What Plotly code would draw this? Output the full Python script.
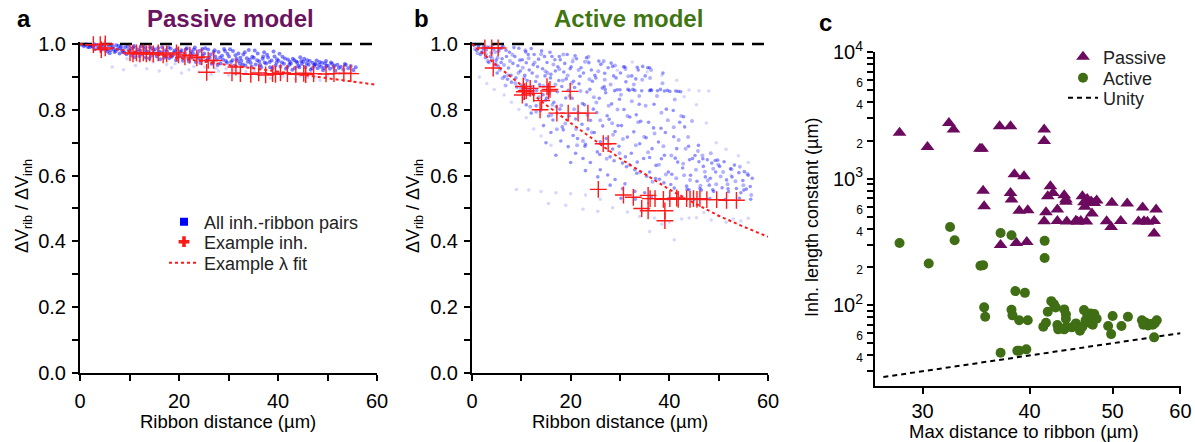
import plotly.graph_objects as go

FONT = "Arial, 'Liberation Sans', sans-serif"
W, H = 1195, 442

BLUE_DENSE = "rgba(0,0,255,0.42)"
BLUE_FAINT = "rgba(0,0,255,0.16)"
RED = "#ff1a1a"
PURPLE = "#6b0a5e"
GREEN = "#3f6e14"
TITLE_PURPLE = "#6a1460"
TITLE_GREEN = "#3f7612"

# ---------------- Panel a: passive model ----------------
passive_pairs_x = [
    0.3, 0.8, 1.2, 1.6, 2.0, 2.4, 1.0, 1.9,
    2.6, 3.0, 3.3, 3.7, 4.1, 4.5, 4.8, 2.9, 3.9, 4.3,
    5.1, 5.5, 5.8, 6.2, 6.6, 7.0, 7.3, 5.4, 6.0, 6.8, 7.2, 6.4,
    7.6, 8.0, 8.3, 8.7, 9.1, 9.4, 9.8, 7.8, 8.5, 9.0, 9.6, 8.1,
    10.1, 10.5, 10.8, 11.2, 11.6, 12.0, 12.3, 10.4, 11.0, 11.5, 12.2, 10.9,
    12.6, 13.0, 13.3, 13.7, 14.1, 14.4, 14.8, 12.9, 13.5, 14.0, 14.6, 13.2,
    15.1, 15.5, 15.9, 16.2, 16.6, 16.9, 17.3, 15.3, 15.8, 16.4, 17.0, 17.4,
    17.6, 18.0, 18.3, 18.7, 19.1, 19.4, 19.8, 17.9, 18.5, 19.0, 19.6, 18.2,
    20.1, 20.5, 20.8, 21.2, 21.6, 21.9, 22.3, 20.3, 20.9, 21.4, 22.0, 22.4,
    22.6, 23.0, 23.4, 23.7, 24.1, 24.5, 24.8, 22.8, 23.2, 23.9, 24.3, 24.7,
    25.1, 25.5, 25.9, 26.2, 26.6, 27.0, 27.3, 25.3, 25.8, 26.4, 26.9, 27.2,
    27.6, 28.0, 28.4, 28.7, 29.1, 29.5, 29.8, 27.8, 28.3, 28.9, 29.3, 29.7,
    30.1, 30.5, 30.9, 31.2, 31.6, 32.0, 32.3, 30.3, 30.8, 31.4, 31.9, 32.4,
    32.6, 33.0, 33.4, 33.7, 34.1, 34.5, 34.8, 32.9, 33.3, 33.9, 34.3, 34.7,
    35.1, 35.5, 35.9, 36.2, 36.6, 37.0, 37.3, 35.3, 35.8, 36.4, 36.9, 37.2,
    37.6, 38.0, 38.4, 38.7, 39.1, 39.5, 39.8, 37.8, 38.3, 38.9, 39.3, 39.7,
    40.1, 40.5, 40.9, 41.2, 41.6, 42.0, 42.3, 40.3, 40.8, 41.4, 41.9, 42.4,
    42.6, 43.0, 43.4, 43.7, 44.1, 44.5, 44.8, 42.9, 43.3, 43.9, 44.3, 44.7,
    45.1, 45.5, 45.9, 46.2, 46.6, 47.0, 47.3, 45.3, 45.8, 46.4, 46.9, 47.4,
    47.6, 48.0, 48.4, 48.7, 49.1, 49.5, 49.8, 47.8, 48.3, 48.9, 49.3, 49.7,
    50.1, 50.5, 50.9, 51.2, 51.6, 52.0, 52.3, 50.7, 51.4,
    52.7, 53.2, 53.7, 54.2, 54.7, 55.2, 55.7, 53.5,
]
passive_pairs_y = [
    0.998, 0.993, 0.999, 0.991, 0.996, 0.994, 0.997, 0.990,
    0.991, 0.984, 0.997, 0.988, 0.995, 0.983, 0.992, 0.999, 0.986, 0.998,
    0.987, 0.977, 0.994, 0.981, 0.990, 0.976, 0.996, 0.983, 0.972, 0.985, 0.979, 0.997,
    0.984, 0.971, 0.992, 0.976, 0.989, 0.969, 0.982, 0.995, 0.980, 0.974, 0.993, 0.987,
    0.978, 0.965, 0.989, 0.971, 0.984, 0.963, 0.993, 0.986, 0.960, 0.976, 0.980, 0.994,
    0.969, 0.985, 0.959, 0.977, 0.990, 0.964, 0.981, 0.992, 0.972, 0.956, 0.987, 0.975,
    0.984, 0.962, 0.977, 0.954, 0.990, 0.968, 0.981, 0.971, 0.988, 0.975, 0.958, 0.963,
    0.977, 0.957, 0.986, 0.965, 0.980, 0.951, 0.972, 0.989, 0.961, 0.974, 0.984, 0.968,
    0.962, 0.981, 0.949, 0.973, 0.987, 0.955, 0.969, 0.976, 0.959, 0.984, 0.947, 0.978,
    0.958, 0.983, 0.945, 0.969, 0.979, 0.951, 0.964, 0.972, 0.989, 0.956, 0.942, 0.985,
    0.971, 0.949, 0.983, 0.958, 0.940, 0.976, 0.962, 0.987, 0.955, 0.968, 0.944, 0.981,
    0.953, 0.976, 0.941, 0.964, 0.985, 0.948, 0.970, 0.936, 0.959, 0.952, 0.979, 0.943,
    0.962, 0.945, 0.979, 0.934, 0.955, 0.971, 0.940, 0.984, 0.951, 0.966, 0.948, 0.958,
    0.949, 0.968, 0.935, 0.957, 0.982, 0.942, 0.961, 0.938, 0.975, 0.946, 0.953, 0.931,
    0.958, 0.938, 0.971, 0.947, 0.929, 0.962, 0.944, 0.980, 0.951, 0.936, 0.955, 0.975,
    0.941, 0.959, 0.929, 0.950, 0.977, 0.935, 0.954, 0.967, 0.945, 0.926, 0.962, 0.943,
    0.949, 0.932, 0.961, 0.940, 0.925, 0.953, 0.937, 0.970, 0.944, 0.956, 0.930, 0.946,
    0.941, 0.955, 0.927, 0.947, 0.934, 0.960, 0.939, 0.922, 0.951, 0.943, 0.929, 0.948,
    0.946, 0.929, 0.951, 0.937, 0.922, 0.943, 0.933, 0.955, 0.940, 0.948, 0.926, 0.938,
    0.939, 0.926, 0.945, 0.931, 0.920, 0.941, 0.933, 0.950, 0.936, 0.943, 0.927, 0.948,
    0.934, 0.925, 0.940, 0.929, 0.919, 0.937, 0.927, 0.944, 0.935,
    0.931, 0.922, 0.936, 0.926, 0.933, 0.921, 0.929, 0.939,
]
passive_sparse_x = [
    6.5, 8.8, 11.2, 13.5, 16.0, 18.5, 20.5, 22.0, 24.0, 26.5, 28.0, 30.0, 32.0, 34.5, 36.5,
    38.5, 41.0, 43.5, 46.0, 48.5, 14.8, 25.2, 35.2, 45.5, 52.5, 9.5, 19.2, 29.5, 39.5, 50.0,
    12.0, 17.5, 23.0, 27.5, 31.0, 33.5, 37.5, 40.5, 44.5, 47.5, 53.5, 55.5,
]
passive_sparse_y = [
    0.930, 0.922, 0.935, 0.925, 0.918, 0.928, 0.912, 0.922, 0.915, 0.908, 0.918, 0.905, 0.912, 0.900, 0.908,
    0.896, 0.902, 0.893, 0.898, 0.890, 0.945, 0.930, 0.918, 0.912, 0.910, 0.955, 0.940, 0.925, 0.915, 0.905,
    0.948, 0.938, 0.932, 0.926, 0.921, 0.916, 0.912, 0.908, 0.903, 0.900, 0.912, 0.915,
]
passive_example_x = [
    2.7, 4.1, 5.1, 5.1, 4.3, 10.1, 10.7, 11.4, 12.1, 12.8, 13.4, 14.1, 14.8, 15.8, 16.8, 17.5,
    19.5, 19.9, 21.2, 22.2, 23.6, 24.6, 25.9, 27.0, 25.6, 30.7, 31.5, 32.4, 34.5, 36.1, 37.5,
    38.9, 39.5, 40.5, 41.9, 43.6, 45.2, 45.6, 47.2, 49.7, 51.3, 53.3, 54.7,
]
passive_example_y = [
    0.998, 0.998, 1.000, 0.988, 0.983, 0.973, 0.970, 0.973, 0.970, 0.973, 0.970, 0.973, 0.970, 0.973, 0.967, 0.970,
    0.973, 0.967, 0.961, 0.966, 0.958, 0.961, 0.950, 0.950, 0.914, 0.912, 0.930, 0.910, 0.908, 0.912, 0.906,
    0.910, 0.908, 0.912, 0.910, 0.908, 0.911, 0.907, 0.910, 0.909, 0.910, 0.911, 0.910,
]
fit_x = [0, 5, 10, 15, 20, 25, 30, 35, 40, 45, 50, 55, 60]
passive_fit_y = [1.000, 0.989, 0.978, 0.968, 0.957, 0.946, 0.936, 0.926, 0.916, 0.906, 0.896, 0.886, 0.876]

# ---------------- Panel b: active model ----------------
active_pairs_x = [
    0.4, 0.9, 1.3, 1.7, 2.2, 0.7, 1.9, 2.4,
    2.7, 3.1, 3.4, 3.9, 4.2, 4.6, 2.9, 3.7, 4.4, 4.9,
    5.1, 5.4, 5.9, 6.3, 6.6, 7.0, 7.4, 5.7, 6.1, 6.9, 7.2, 5.3,
    7.6, 8.0, 8.3, 8.7, 9.1, 9.5, 9.8, 7.9, 8.5, 9.3, 8.9, 9.7,
    10.2, 10.5, 10.9, 11.2, 11.6, 12.0, 12.3, 10.7, 11.4, 11.9, 12.4, 10.1, 11.0, 12.2,
    12.6, 13.0, 13.3, 13.7, 14.1, 14.4, 14.8, 12.9, 13.5, 13.9, 14.3, 14.7, 13.1, 14.9,
    15.2, 15.5, 15.9, 16.2, 16.6, 16.9, 17.3, 15.4, 15.8, 16.4, 16.8, 17.1, 17.4, 15.1, 16.0,
    17.6, 17.9, 18.3, 18.6, 19.0, 19.3, 19.7, 17.8, 18.2, 18.8, 19.5, 19.9, 18.5, 19.1, 17.7,
    20.1, 20.5, 20.8, 21.2, 21.5, 21.9, 22.3, 20.3, 20.9, 21.4, 21.7, 22.1, 22.4, 20.6, 21.0,
    22.6, 23.0, 23.3, 23.7, 24.0, 24.4, 24.8, 22.8, 23.2, 23.5, 23.9, 24.2, 24.6, 22.9, 24.9,
    25.1, 25.4, 25.8, 26.1, 26.5, 26.8, 27.2, 25.3, 25.7, 26.0, 26.4, 26.9, 27.4, 25.9, 27.1,
    27.6, 28.0, 28.3, 28.7, 29.0, 29.4, 29.8, 27.8, 28.2, 28.5, 28.9, 29.2, 29.6, 28.8, 29.9,
    30.1, 30.5, 30.8, 31.2, 31.5, 31.9, 32.3, 30.3, 30.7, 31.1, 31.6, 32.0, 32.4, 31.3,
    32.6, 33.0, 33.3, 33.7, 34.0, 34.4, 34.8, 32.8, 33.2, 33.5, 33.9, 34.2, 34.6, 33.4,
    35.1, 35.4, 35.8, 36.2, 36.5, 36.9, 37.3, 35.3, 35.6, 36.0, 36.4, 36.8, 37.2,
    37.6, 38.0, 38.3, 38.7, 39.0, 39.4, 39.8, 37.8, 38.2, 38.9, 39.2, 39.6,
    40.1, 40.5, 40.9, 41.3, 41.7, 42.1, 40.3, 40.8, 41.5, 42.3,
    42.7, 43.1, 43.5, 43.9, 44.3, 44.7, 42.9, 44.0,
    45.2, 45.6, 46.0, 46.5, 46.9, 47.3, 45.9,
    47.7, 48.1, 48.6, 49.0, 49.4, 49.8, 48.3,
    50.2, 50.7, 51.1, 51.6, 52.0, 52.4,
    52.7, 53.2, 53.6, 54.1, 54.5, 54.9,
    55.2, 55.6, 56.0, 56.4, 56.8,
    30.2, 33.1, 36.4, 39.7, 42.2, 45.1, 48.2, 51.3, 54.2, 56.5,
    41.0, 43.6, 46.2, 48.8, 51.9, 55.1,
    36.0, 38.4, 41.2, 44.1, 46.8, 49.3,
    27.0, 30.0, 33.0, 36.0, 39.0, 41.8,
    28.5, 31.0, 33.5, 36.0,
    12.0, 14.5, 16.0, 18.0, 19.5, 21.0, 22.5, 24.0, 26.0, 27.5, 29.0, 31.0,
    17.0, 20.0, 23.0, 25.5, 28.0, 30.5, 33.0, 35.0, 15.0, 11.0,
]
active_pairs_y = [
    0.996, 0.981, 0.992, 0.968, 0.987, 0.999, 0.975, 0.994,
    0.958, 0.991, 0.944, 0.973, 0.997, 0.936, 0.982, 0.962, 0.985, 0.951,
    0.912, 0.978, 0.944, 0.993, 0.901, 0.962, 0.927, 0.986, 0.955, 0.981, 0.893, 0.933,
    0.975, 0.884, 0.941, 0.962, 0.869, 0.987, 0.918, 0.905, 0.989, 0.934, 0.897, 0.951,
    0.952, 0.834, 0.976, 0.889, 0.921, 0.986, 0.848, 0.905, 0.968, 0.862, 0.937, 0.874, 0.943, 0.912,
    0.968, 0.812, 0.931, 0.877, 0.979, 0.846, 0.903, 0.886, 0.954, 0.798, 0.925, 0.962, 0.859, 0.829,
    0.944, 0.781, 0.897, 0.962, 0.823, 0.918, 0.855, 0.871, 0.975, 0.769, 0.952, 0.809, 0.931, 0.836, 0.908,
    0.889, 0.952, 0.748, 0.915, 0.836, 0.968, 0.781, 0.802, 0.871, 0.941, 0.859, 0.925, 0.739, 0.894, 0.962,
    0.931, 0.722, 0.868, 0.955, 0.791, 0.902, 0.756, 0.835, 0.964, 0.713, 0.879, 0.928, 0.819, 0.887, 0.772,
    0.912, 0.695, 0.854, 0.943, 0.768, 0.887, 0.731, 0.815, 0.958, 0.742, 0.862, 0.921, 0.802, 0.689, 0.905,
    0.897, 0.672, 0.835, 0.938, 0.751, 0.871, 0.713, 0.792, 0.948, 0.703, 0.866, 0.911, 0.782, 0.664, 0.852,
    0.928, 0.657, 0.818, 0.903, 0.734, 0.861, 0.689, 0.771, 0.942, 0.681, 0.858, 0.897, 0.752, 0.645, 0.832,
    0.912, 0.638, 0.801, 0.885, 0.717, 0.859, 0.668, 0.752, 0.931, 0.657, 0.862, 0.778, 0.903, 0.627,
    0.862, 0.618, 0.785, 0.921, 0.697, 0.858, 0.652, 0.733, 0.894, 0.641, 0.817, 0.765, 0.932, 0.607,
    0.903, 0.598, 0.762, 0.861, 0.682, 0.817, 0.631, 0.715, 0.928, 0.611, 0.859, 0.745, 0.591,
    0.858, 0.589, 0.744, 0.912, 0.662, 0.802, 0.611, 0.702, 0.862, 0.578, 0.731, 0.859,
    0.856, 0.604, 0.718, 0.857, 0.641, 0.762, 0.573, 0.798, 0.682, 0.855,
    0.623, 0.748, 0.568, 0.689, 0.601, 0.652, 0.779, 0.557,
    0.661, 0.583, 0.642, 0.556, 0.628, 0.596, 0.692,
    0.648, 0.571, 0.638, 0.552, 0.611, 0.647, 0.592,
    0.628, 0.563, 0.642, 0.587, 0.551, 0.621,
    0.596, 0.632, 0.561, 0.609, 0.548, 0.585,
    0.612, 0.559, 0.601, 0.567, 0.592,
    0.531, 0.528, 0.533, 0.529, 0.532, 0.528, 0.530, 0.527, 0.531, 0.528,
    0.562, 0.558, 0.561, 0.557, 0.560, 0.556,
    0.655, 0.651, 0.653, 0.648, 0.651, 0.646,
    0.862, 0.861, 0.859, 0.858, 0.857, 0.856,
    0.932, 0.930, 0.929, 0.928,
    0.790, 0.752, 0.731, 0.705, 0.688, 0.668, 0.652, 0.640, 0.618, 0.602, 0.588, 0.575,
    0.662, 0.640, 0.615, 0.596, 0.571, 0.560, 0.552, 0.548, 0.700, 0.815,
]
# further inh.-ribbon pairs from the remaining inhibitory cells
active_more_x = [
    0.6, 1.1, 1.4, 2.3, 2.8, 3.2, 3.6, 4.1, 4.7, 4.8,
    5.2, 5.6, 6.0, 6.5, 6.8, 7.3, 7.7, 8.2, 8.8, 9.4, 9.9, 6.2,
    10.3, 10.6, 11.1, 11.5, 11.8, 12.2, 12.7, 13.2, 13.6, 14.0, 14.5, 14.9, 10.8, 13.0,
    15.3, 15.7, 16.1, 16.5, 16.9, 17.2, 17.7, 18.1, 18.5, 18.9, 19.4, 19.8, 16.3, 18.4,
    20.2, 20.7, 21.1, 21.6, 22.0, 22.5, 22.9, 23.4, 23.8, 24.3, 24.7, 21.3, 23.6, 20.4,
    25.2, 25.6, 26.0, 26.4, 26.9, 27.3, 27.7, 28.1, 28.6, 29.0, 29.5, 29.9, 26.7, 28.4,
    30.2, 30.6, 31.1, 31.5, 31.9, 32.4, 32.8, 33.2, 33.7, 34.1, 34.5, 34.9, 31.7, 33.9,
    35.2, 35.7, 36.1, 36.6, 37.0, 37.5, 37.9, 38.4, 38.8, 39.3, 39.7, 36.3, 38.6,
    40.4, 40.9, 41.4, 41.9, 42.4, 42.8, 43.3, 43.8, 44.2, 44.6, 41.1, 43.0,
    45.4, 45.8, 46.3, 46.7, 47.2, 47.8, 48.4, 48.9, 49.5, 49.9,
    50.4, 50.9, 51.8, 52.6, 53.4, 54.3, 55.0, 55.8, 56.6,
]
active_more_y = [
    0.985, 0.972, 0.998, 0.979, 0.969, 0.948, 0.990, 0.957, 0.976, 0.941,
    0.958, 0.921, 0.988, 0.936, 0.874, 0.905, 0.948, 0.967, 0.881, 0.912, 0.865, 0.896,
    0.928, 0.897, 0.862, 0.957, 0.809, 0.871, 0.944, 0.901, 0.838, 0.969, 0.872, 0.917, 0.981, 0.794,
    0.912, 0.851, 0.784, 0.938, 0.877, 0.741, 0.923, 0.813, 0.968, 0.758, 0.904, 0.842, 0.815, 0.889,
    0.881, 0.802, 0.742, 0.921, 0.857, 0.705, 0.946, 0.784, 0.893, 0.731, 0.838, 0.692, 0.961, 0.947,
    0.822, 0.917, 0.768, 0.694, 0.891, 0.651, 0.812, 0.877, 0.724, 0.935, 0.801, 0.668, 0.948, 0.759,
    0.846, 0.711, 0.924, 0.781, 0.632, 0.826, 0.877, 0.692, 0.762, 0.611, 0.891, 0.718, 0.902, 0.842,
    0.812, 0.671, 0.897, 0.581, 0.728, 0.842, 0.633, 0.791, 0.689, 0.603, 0.768, 0.921, 0.881,
    0.661, 0.747, 0.592, 0.708, 0.781, 0.636, 0.682, 0.717, 0.587, 0.766, 0.831, 0.601,
    0.618, 0.675, 0.569, 0.661, 0.612, 0.585, 0.668, 0.621, 0.574, 0.633,
    0.597, 0.611, 0.574, 0.619, 0.583, 0.627, 0.571, 0.606, 0.541,
]
active_sparse_x = [
    1.5, 3.0, 4.5, 6.5, 8.0, 9.5, 11.0, 12.5, 14.0, 16.0, 9.0, 11.5, 14.0, 17.0, 20.0, 23.0,
    26.0, 15.5, 19.0, 22.5, 25.5, 28.5, 31.5, 34.0, 37.0, 40.0, 42.5, 45.5, 48.5, 51.5, 54.5,
    36.0, 38.5, 41.0, 44.0, 47.0, 50.0, 53.0, 56.0, 20.5, 23.5, 26.5, 29.5, 32.5, 35.5, 38.5,
    41.5, 44.0, 46.0, 48.0, 43.0, 45.5, 47.5, 49.5, 51.5, 54.0, 56.0, 52.5,
]
active_sparse_y = [
    0.900, 0.880, 0.862, 0.845, 0.823, 0.801, 0.776, 0.742, 0.720, 0.692, 0.558, 0.556, 0.552, 0.548, 0.545, 0.541,
    0.528, 0.515, 0.510, 0.498, 0.492, 0.502, 0.489, 0.476, 0.471, 0.459, 0.468, 0.472, 0.465, 0.458, 0.462,
    0.430, 0.452, 0.405, 0.471, 0.488, 0.478, 0.468, 0.470, 0.955, 0.948, 0.942, 0.920, 0.945, 0.915, 0.905,
    0.890, 0.860, 0.858, 0.857, 0.840, 0.815, 0.760, 0.700, 0.680, 0.660, 0.640, 0.600,
]
active_example_x = [
    2.6, 4.0, 5.3, 4.3, 10.4, 10.6, 10.2, 11.8, 12.5, 11.0, 15.2, 15.5, 15.8, 19.9, 14.1, 13.8,
    17.2, 19.5, 21.5, 23.5, 26.6, 27.6, 25.6, 30.7, 32.7, 35.7, 36.1, 37.1, 38.8, 40.1, 41.5,
    41.8, 43.5, 44.2, 44.9, 45.6, 46.2, 47.6, 49.6, 51.6, 53.6, 34.4, 35.7, 39.1, 39.1,
]
active_example_y = [
    0.988, 0.988, 0.988, 0.927, 0.871, 0.855, 0.845, 0.865, 0.850, 0.858, 0.870, 0.857, 0.862, 0.856, 0.828, 0.800,
    0.790, 0.790, 0.790, 0.790, 0.697, 0.697, 0.558, 0.541, 0.534, 0.540, 0.530, 0.530, 0.528, 0.530, 0.532,
    0.528, 0.530, 0.528, 0.530, 0.528, 0.530, 0.527, 0.527, 0.525, 0.525, 0.500, 0.493, 0.493, 0.463,
]
active_fit_y = [1.000, 0.935, 0.875, 0.815, 0.760, 0.705, 0.652, 0.605, 0.558, 0.517, 0.478, 0.445, 0.414]

no_attenuation_x = [0, 60]
no_attenuation_y = [1, 1]

# ---------------- Panel c: length constants ----------------
passive_dist = [
    28.2, 30.4, 32.2, 32.6, 35.0, 35.2, 36.9, 38.0, 41.6, 41.6,
    35.3, 35.4, 38.4, 39.4, 38.0, 38.1, 38.9, 39.8, 42.3, 42.6, 42.0, 41.8, 43.1,
    43.9, 44.1, 44.1, 46.1, 46.3, 46.7, 47.2, 47.6, 47.9, 46.4, 47.3, 49.9, 52.0, 54.2, 56.2,
    41.6, 43.1, 44.2, 45.3, 45.5, 45.9, 46.6, 49.2, 51.1, 53.6, 54.4, 54.9, 55.9,
    49.8, 55.9, 37.0, 38.6, 39.7,
]
passive_lambda = [
    2300, 1780, 2750, 2440, 1725, 1725, 2590, 2590, 2440, 1980,
    800, 605, 1080, 1045, 770, 685, 556, 563, 870, 770, 726, 542, 569,
    740, 655, 684, 726, 650, 690, 660, 640, 670, 600, 530, 645, 636, 590, 569,
    460, 462, 458, 465, 455, 462, 458, 460, 462, 458, 460, 455, 462,
    415, 368, 298, 310, 316,
]
active_dist = [
    28.2, 30.5, 32.3, 32.7, 35.05, 35.3, 35.4, 35.5, 37.0, 37.0,
    38.1, 38.1, 38.2, 38.5, 38.7, 38.9, 38.9, 39.5, 39.65, 39.8,
    41.65, 41.65, 41.5, 41.8, 42.0, 42.4, 42.7, 42.9, 43.1, 43.2,
    43.9, 44.1, 44.1, 43.9, 44.1, 44.8, 45.3, 45.5, 45.8, 46.1,
    46.3, 46.5, 46.7, 46.9, 47.1, 47.4, 47.6, 47.9, 47.1, 47.4,
    49.4, 49.8, 50.0, 51.2, 52.1, 54.1, 54.3, 54.6, 55.0, 55.4, 55.7, 56.0, 56.3, 55.9,
]
active_lambda = [
    310, 213, 415, 326, 205, 207, 96, 81, 372, 42,
    357, 92, 83, 129, 43.6, 43.6, 76, 125, 44.7, 76,
    322, 236, 67.4, 72.5, 88.5, 107.5, 101.8, 95.9, 69.5, 64.3,
    92.5, 84.5, 78, 64.3, 66.7, 66.7, 71.7, 67.4, 62.7, 67.4,
    91.3, 76, 84, 80, 86, 82, 85, 78, 72, 70,
    68.3, 59, 81.9, 68.3, 80.9, 76, 70, 73, 69, 71, 70, 72, 76, 55.6,
]
unity_x = [27, 60]
unity_y = [27, 60]


def px_x(v):
    return v / W


def px_y(v):
    return 1 - v / H


fig = go.Figure()


def cloud(xs, ys, ax, ay, color, size):
    fig.add_trace(go.Scatter(x=xs, y=ys, mode="markers", xaxis=ax, yaxis=ay, showlegend=False,
                             cliponaxis=False, hoverinfo="skip", marker=dict(size=size, color=color)))


def panel_lines(ax, ay, fit_y, ex_x, ex_y):
    fig.add_trace(go.Scatter(x=no_attenuation_x, y=no_attenuation_y, mode="lines", xaxis=ax, yaxis=ay,
                             line=dict(color="black", width=2.6, dash="12px,8px"),
                             showlegend=False, cliponaxis=False))
    fig.add_trace(go.Scatter(x=fit_x, y=fit_y, mode="lines", xaxis=ax, yaxis=ay,
                             line=dict(color=RED, width=2, dash="dot"), showlegend=False, cliponaxis=False))
    fig.add_trace(go.Scatter(x=ex_x, y=ex_y, mode="markers", xaxis=ax, yaxis=ay,
                             marker=dict(symbol="cross-thin", size=12, line=dict(color=RED, width=1.4)),
                             showlegend=False, cliponaxis=False))


# panel a
cloud(passive_sparse_x, passive_sparse_y, "x", "y", BLUE_FAINT, 3.5)
cloud(passive_pairs_x, passive_pairs_y, "x", "y", "rgba(0,0,255,0.5)", 4)
panel_lines("x", "y", passive_fit_y, passive_example_x, passive_example_y)

# panel b
cloud(active_sparse_x, active_sparse_y, "x2", "y2", BLUE_FAINT, 3.5)
cloud(active_more_x, active_more_y, "x2", "y2", "rgba(0,0,255,0.3)", 4)
cloud(active_pairs_x, active_pairs_y, "x2", "y2", BLUE_DENSE, 3.6)
panel_lines("x2", "y2", active_fit_y, active_example_x, active_example_y)

# key entries for panels a/b, one legend box per row
fig.add_trace(go.Scatter(x=[None], y=[None], mode="markers", name="All inh.-ribbon pairs", legend="legend",
                         marker=dict(symbol="square", size=8, color="#0000ff")))
fig.add_trace(go.Scatter(x=[None], y=[None], mode="markers", name="Example inh.", legend="legend3",
                         marker=dict(symbol="cross", size=9, color=RED, line=dict(width=0))))
fig.add_trace(go.Scatter(x=[None], y=[None], mode="lines", name="Example λ fit", legend="legend4",
                         line=dict(color=RED, width=2, dash="dot")))

# panel c
fig.add_trace(go.Scatter(x=unity_x, y=unity_y, mode="lines", xaxis="x3", yaxis="y3", name="Unity",
                         legend="legend6", line=dict(color="black", width=2, dash="5px,4px")))
fig.add_trace(go.Scatter(x=passive_dist, y=passive_lambda, mode="markers", xaxis="x3", yaxis="y3",
                         name="Passive", legend="legend2",
                         marker=dict(symbol="triangle-up", size=12, color=PURPLE)))
fig.add_trace(go.Scatter(x=active_dist, y=active_lambda, mode="markers", xaxis="x3", yaxis="y3",
                         name="Active", legend="legend5",
                         marker=dict(symbol="circle", size=10, color=GREEN)))

axis_common = dict(showline=True, linewidth=2, linecolor="black", ticks="outside", ticklen=6,
                   tickwidth=2, tickcolor="black", showgrid=False, zeroline=False,
                   tickfont=dict(family=FONT, size=20, color="black"))

# a small headroom above 1.0 keeps the full width of the y = 1 reference line visible
Y_TOP = 1.006
PX_PER_UNIT = 329
lin_x = dict(axis_common, range=[0, 60], tickvals=[0, 20, 40, 60], ticklabelstandoff=3,
             minor=dict(tickvals=[10, 30, 50], ticks="outside", ticklen=6, tickwidth=2, tickcolor="black"))
lin_y = dict(axis_common, range=[0, Y_TOP], tickvals=[0, 0.2, 0.4, 0.6, 0.8, 1.0], tickformat=".1f",
             ticklabelstandoff=2,
             minor=dict(tickvals=[0.1, 0.3, 0.5, 0.7, 0.9], ticks="outside", ticklen=6, tickwidth=2,
                        tickcolor="black"))
lin_top = 44 - (Y_TOP - 1) * PX_PER_UNIT

# log-axis ticks for panel c
lam_vals, lam_text = [], []
for dec in (10, 100, 1000):
    for m in range(2, 10):
        lam_vals.append(m * dec)
        lam_text.append(f"<span style='font-size:12px'>{m}</span>" if m in (2, 4, 6) else "")
    lam_vals.append(10 * dec)
    lam_text.append(f"10<sup>{len(str(10 * dec)) - 1}</sup>")

dist_ticks = [30, 40, 50, 60]


def key(x, y):
    return dict(x=px_x(x), y=px_y(y), xanchor="left", yanchor="middle", bgcolor="rgba(0,0,0,0)",
                borderwidth=0, font=dict(family=FONT, size=18, color="#222"), itemwidth=30)


fig.update_layout(
    width=W, height=H, margin=dict(l=0, r=0, t=0, b=0, autoexpand=False),
    paper_bgcolor="white", plot_bgcolor="white",
    font=dict(family=FONT, color="black"),
    xaxis=dict(lin_x, domain=[px_x(80), px_x(377)], anchor="y"),
    yaxis=dict(lin_y, domain=[px_y(373), px_y(lin_top)], anchor="x"),
    xaxis2=dict(lin_x, domain=[px_x(472), px_x(768)], anchor="y2"),
    yaxis2=dict(lin_y, domain=[px_y(373), px_y(lin_top)], anchor="x2"),
    xaxis3=dict(axis_common, type="log", range=[1.4216, 1.7782], tickvals=dist_ticks,
                ticktext=[str(v) for v in dist_ticks], domain=[px_x(875), px_x(1180.5)], anchor="y3"),
    yaxis3=dict(axis_common, type="log", range=[1.363, 4.003], tickvals=lam_vals, ticktext=lam_text,
                domain=[px_y(385.7), px_y(51.7)], anchor="x3"),
    legend=key(164, 222),
    legend3=key(164, 242),
    legend4=key(164, 263),
    legend2=key(1063, 57),
    legend5=key(1063, 78),
    legend6=key(1063, 98),
)

ann = []


def label(text, x, y, size, color="black", bold=False, angle=0):
    ann.append(dict(text=f"<b>{text}</b>" if bold else text, x=px_x(x), y=px_y(y), xref="paper",
                    yref="paper", showarrow=False, xanchor="center", yanchor="middle", textangle=angle,
                    font=dict(family=FONT, size=size, color=color)))


label("a", 24, 19, 24, bold=True)
label("b", 421, 19, 24, bold=True)
label("c", 825, 22, 24, bold=True)
label("Passive model", 231, 19, 24, color=TITLE_PURPLE, bold=True)
label("Active model", 628, 19, 24, color=TITLE_GREEN, bold=True)
label("ΔV<sub>rib</sub> / ΔV<sub>inh</sub>", 23, 206, 18, angle=-90)
label("ΔV<sub>rib</sub> / ΔV<sub>inh</sub>", 414, 206, 18, angle=-90)
label("Ribbon distance (µm)", 228, 421, 18.5)
label("Ribbon distance (µm)", 620, 421, 18.5)
label("Inh. length constant (µm)", 812, 218, 18, angle=-90)
label("Max distance to ribbon (µm)", 1024, 431, 18.5)
fig.update_layout(annotations=ann)

fig.write_html("out.html")
